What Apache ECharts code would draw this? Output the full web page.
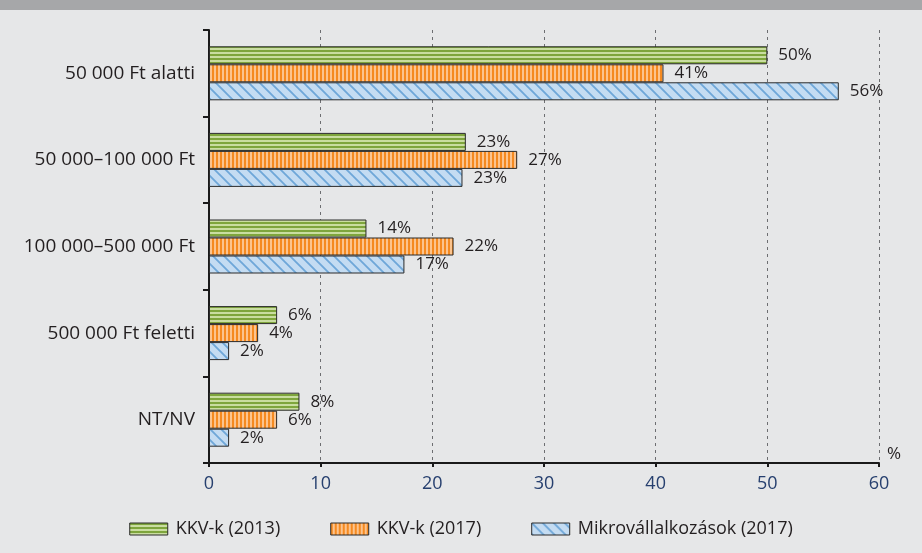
<!DOCTYPE html>
<html>
<head>
<meta charset="utf-8">
<script src="https://cdn.jsdelivr.net/npm/echarts@6/dist/echarts.min.js"></script>
<style>
  html, body { margin: 0; padding: 0; background: #e6e7e8; }
  #top { height: 10px; background: #a6a7a9; }
  #chart { width: 922px; height: 543px; }
</style>
</head>
<body>
<div id="top"></div>
<div id="chart"></div>
<script>
const categories = ['50 000 Ft alatti', '50 000–100 000 Ft', '100 000–500 000 Ft', '500 000 Ft feletti', 'NT/NV'];
const seriesNames = ['KKV-k (2013)', 'KKV-k (2017)', 'Mikrovállalkozások (2017)'];
const kkv2013 = [50.0, 23.0, 14.1, 6.1, 8.1];
const kkv2017 = [40.7, 27.6, 21.9, 4.4, 6.1];
const micro2017 = [56.4, 22.7, 17.5, 1.8, 1.8];
const kkv2013Labels = ['50%', '23%', '14%', '6%', '8%'];
const kkv2017Labels = ['41%', '27%', '22%', '4%', '6%'];
const micro2017Labels = ['56%', '23%', '17%', '2%', '2%'];
const xTicks = [0, 10, 20, 30, 40, 50, 60];

// small canvas patterns for the bar fills
function makePattern(w, h, draw) {
  const c = document.createElement('canvas');
  c.width = w; c.height = h;
  draw(c.getContext('2d'));
  return { image: c, repeat: 'repeat' };
}
const greenFill = makePattern(4, 4, g => {
  g.fillStyle = '#c9dda0'; g.fillRect(0, 0, 4, 4);
  g.fillStyle = '#7ea53c'; g.fillRect(0, 0, 4, 2);
});
const orangeFill = makePattern(4, 4, g => {
  g.fillStyle = '#fcc48e'; g.fillRect(0, 0, 4, 4);
  g.fillStyle = '#f58a20'; g.fillRect(0, 0, 2, 4);
});
const blueFill = makePattern(11, 11, g => {
  g.fillStyle = '#c4dcf2'; g.fillRect(0, 0, 11, 11);
  g.strokeStyle = '#6ea7d8'; g.lineWidth = 1.8;
  g.beginPath();
  g.moveTo(-1, -1); g.lineTo(12, 12);
  g.moveTo(-12, -1); g.lineTo(1, 12);
  g.moveTo(10, -1); g.lineTo(23, 12);
  g.stroke();
});

const font = '"Open Sans", "Noto Sans", sans-serif';

function barSeries(name, data, labels, fill) {
  return {
    name: name,
    type: 'bar',
    data: data,
    barWidth: 18,
    barGap: '0%',
    itemStyle: { color: fill, borderColor: '#2b2b2b', borderWidth: 1 },
    label: {
      show: true,
      position: 'right',
      distance: 11,
      fontSize: 17,
      fontFamily: font,
      color: '#231f20',
      formatter: p => labels[p.dataIndex]
    }
  };
}

const chart = echarts.init(document.getElementById('chart'));
chart.setOption({
  backgroundColor: '#e6e7e8',
  animation: false,
  textStyle: { fontFamily: font },
  grid: { left: 209, right: 43, top: 20, bottom: 90, containLabel: false },
  legend: {
    bottom: 10,
    left: 'center',
    itemWidth: 38,
    itemHeight: 12,
    itemGap: 50,
    textStyle: { fontSize: 18, color: '#231f20', fontFamily: font, padding: [0, 0, 0, 3] },
    data: seriesNames.map((n, i) => ({
      name: n,
      icon: 'rect',
      itemStyle: { color: [greenFill, orangeFill, blueFill][i], borderColor: '#2b2b2b', borderWidth: 1 }
    }))
  },
  xAxis: {
    type: 'value',
    min: xTicks[0],
    max: xTicks[xTicks.length - 1],
    interval: 10,
    name: '%',
    nameLocation: 'end',
    nameGap: 8,
    nameTextStyle: { fontSize: 17, color: '#231f20', verticalAlign: 'bottom', padding: [0, 0, 0, 0] },
    axisLine: { show: true, onZero: false, lineStyle: { color: '#1a1a1a', width: 2 } },
    axisTick: { show: true, length: 4, lineStyle: { color: '#1a1a1a', width: 2 } },
    axisLabel: { fontSize: 18, color: '#27406f', margin: 12 },
    splitLine: { show: true, lineStyle: { color: '#6d6e71', type: [3, 4], width: 1 } }
  },
  yAxis: {
    type: 'category',
    data: categories,
    inverse: true,
    axisLine: { show: true, lineStyle: { color: '#1a1a1a', width: 2 } },
    axisTick: { show: true, length: 6, inside: false, lineStyle: { color: '#1a1a1a', width: 2 } },
    axisLabel: { fontSize: 19, color: '#231f20', margin: 14 },
    splitLine: { show: false }
  },
  series: [
    barSeries(seriesNames[0], kkv2013, kkv2013Labels, greenFill),
    barSeries(seriesNames[1], kkv2017, kkv2017Labels, orangeFill),
    barSeries(seriesNames[2], micro2017, micro2017Labels, blueFill)
  ]
});
</script>
</body>
</html>
